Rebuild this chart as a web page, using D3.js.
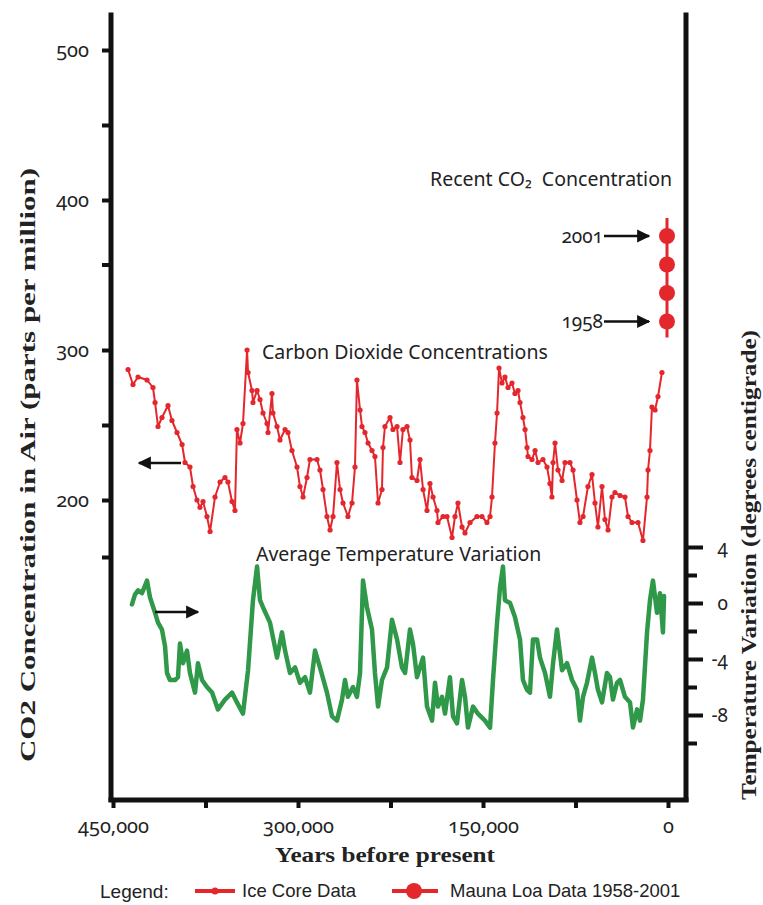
<!DOCTYPE html>
<html>
<head>
<meta charset="utf-8">
<script src="https://cdn.jsdelivr.net/npm/d3@7"></script>
<style>
  html, body { margin: 0; padding: 0; background: #fff; }
  svg { display: block; }
  .num { font-family: "Noto Sans", "Open Sans", sans-serif; font-variant-numeric: oldstyle-nums; fill: #222; }
  .note { font-family: "Noto Sans", "Open Sans", sans-serif; fill: #222; }
  .title { font-family: "Liberation Serif", "DejaVu Serif", serif; font-weight: bold; fill: #222; }
  .legend { font-family: "Liberation Sans Narrow", "Liberation Sans", sans-serif; font-stretch: condensed; fill: #222; }
</style>
</head>
<body>
<svg id="chart" width="763" height="905"></svg>
<script>
// Ice core CO2 record (years before present, ppm)
const co2Years = [437800,433800,429700,422400,417600,415900,413500,410300,405400,402200,398100,394000,391600,387600,385100,381900,379500,377000,373800,371300,367300,363200,359200,356800,353500,351100,349500,347000,344600,341300,340500,337300,336500,333200,330800,328400,325100,324300,321100,320300,317000,314600,310500,308100,304900,300800,298400,295900,292700,290300,284600,282200,279700,276500,274000,271600,268400,265900,263500,259500,256200,253800,252200,249700,248100,245700,243200,240000,237600,235100,231900,231100,229500,225400,223000,219700,217300,214900,211600,209200,207600,203500,201100,198600,195400,193000,190500,187300,186500,182400,179200,175100,172700,170300,167000,164600,160500,154900,150800,146800,144300,142700,140300,138600,137000,134600,132200,129700,126500,124100,121600,120000,117600,115900,114300,113500,110300,107800,105400,101400,98100,95700,94100,93200,91600,89200,85900,83500,79500,77000,73800,71400,68900,64900,61600,59200,56800,53500,51100,48600,45400,43000,38900,34900,32400,29200,24300,20300,17000,16200,14600,13000,10500,8100,4900];
const co2Ppm = [287,277,282,280,275,265,249,255,263,253,245,237,225,222,209,200,195,199,189,179,202,212,215,212,199,193,247,238,251,300,285,273,265,273,267,258,251,245,271,258,249,240,247,245,233,222,209,202,215,227,227,220,207,189,180,189,225,207,198,189,198,222,280,260,249,245,238,233,229,198,207,235,249,255,247,249,225,247,249,240,215,213,227,207,193,211,202,193,185,189,189,175,189,198,182,178,185,189,189,185,189,202,238,258,288,278,282,275,278,271,273,265,255,247,235,229,227,233,225,227,222,211,202,225,238,220,213,225,225,220,200,185,189,209,217,198,182,209,187,180,202,205,203,202,189,185,185,173,202,220,233,262,260,269,285];

// Temperature variation record (years before present, degrees C)
const tempYears = [434600,432200,429700,426500,422400,420000,415900,413500,410300,407800,406200,403800,399700,397300,395700,393200,390000,387600,383500,381100,377800,373800,369700,364900,359200,353500,349500,344600,340500,336500,333200,330800,328400,322700,317000,313000,310500,306500,302400,298400,294300,290300,286200,282200,276500,272400,268400,264300,261900,259500,255400,252200,249700,247300,244100,240000,237600,235100,231900,227800,223800,219700,215700,213200,209200,206800,203500,201100,198600,195400,191300,188900,186500,183200,180800,176800,174300,171100,167000,164600,162200,158100,154100,148400,144300,141900,138600,136200,133800,132200,128100,124100,120000,117600,114300,111900,109500,106200,103800,99700,95700,93200,90000,85900,81900,77800,73800,71400,68900,65700,61600,59200,56800,53500,49500,47000,44600,41400,38900,34900,30800,28400,25100,22700,20300,17000,14600,12200,8900,6500,4100,3200];
const tempC = [-0.1,0.6,0.9,0.7,1.6,0.4,-0.7,-1.4,-1.9,-3.1,-5.0,-5.5,-5.5,-5.3,-2.9,-4.3,-3.4,-5.0,-6.4,-4.3,-5.5,-6.0,-6.4,-7.6,-6.9,-6.4,-7.1,-7.9,-4.8,0.2,2.6,0.2,-0.3,-1.4,-3.9,-2.1,-3.4,-5.0,-4.6,-5.7,-5.3,-6.4,-3.4,-4.6,-6.4,-8.1,-8.4,-6.9,-5.5,-6.7,-6.0,-6.7,-5.0,1.6,-0.3,-1.9,-5.0,-7.4,-5.5,-4.6,-1.2,-2.6,-4.6,-5.0,-1.9,-2.9,-5.3,-4.6,-3.9,-7.4,-8.4,-5.7,-7.4,-6.7,-7.9,-5.3,-8.1,-8.6,-5.5,-6.7,-8.9,-7.4,-7.9,-8.4,-8.9,-5.5,-1.4,1.1,2.6,0.2,0.0,-1.0,-2.6,-5.5,-6.2,-6.4,-2.6,-2.6,-3.9,-5.0,-6.7,-4.3,-1.9,-4.8,-4.3,-5.5,-6.2,-8.4,-6.7,-5.7,-3.9,-5.0,-6.2,-7.1,-5.0,-5.3,-6.9,-5.7,-5.5,-6.7,-7.1,-8.9,-7.6,-8.4,-6.9,-2.1,0.2,1.6,-0.7,0.7,-2.1,0.5];

// Mauna Loa annual means, 1958 to 2001 (ppm)
const maunaLoaYears = [1958, 1972, 1987, 2001];
const maunaLoaPpm = [319, 338, 357, 376];
const maunaLoaLabels = ["2001", "1958"];

// Axis ticks
const co2TickLabels = [500, 400, 300, 200];
const co2MinorTicks = [450, 357, 250, 162];
const tempTickLabels = [4, 0, -4, -8];
const tempMinorTicks = [2, -2, -6, -10];
const yearTicks = [450000, 375000, 300000, 225000, 150000, 75000, 0];
const yearTickLabels = [450000, 300000, 150000, 0];

const RED = "#e3272d";
const GREEN = "#2f9849";
const INK = "#111";

const svg = d3.select("#chart");

const x = d3.scaleLinear().domain([450000, 0]).range([113, 668]);
const yCO2 = d3.scaleLinear().domain([0, 500]).range([800, 50]);
const yT = d3.scaleLinear().domain([0, 4]).range([603, 547]);

const leftX = 111, rightX = 686, baseY = 800;
const topY = yCO2(525);

// ---- axes ----
function styleAxis(g, width) {
  g.select(".domain").remove();
  g.selectAll(".tick line").attr("stroke", INK).attr("stroke-width", width);
}

// left CO2 axis
svg.append("g").attr("transform", `translate(${leftX},0)`)
  .call(d3.axisLeft(yCO2).tickValues(co2TickLabels.concat(co2MinorTicks)).tickSize(9).tickPadding(13)
    .tickFormat(d => co2TickLabels.includes(d) ? d : ""))
  .call(g => styleAxis(g, 4))
  .call(g => g.selectAll("text").attr("class", "num").style("font-size", "20px"));

// right temperature axis: major and minor ticks
svg.append("g").attr("transform", `translate(${rightX},0)`)
  .call(d3.axisRight(yT).tickValues(tempMinorTicks).tickSize(11).tickFormat(""))
  .call(g => styleAxis(g, 4));
svg.append("g").attr("transform", `translate(${rightX},0)`)
  .call(d3.axisRight(yT).tickValues(tempTickLabels).tickSize(17).tickFormat(d => d < 0 ? "-" + Math.abs(d) : d))
  .call(g => styleAxis(g, 4))
  .call(g => g.selectAll("text").attr("class", "num").style("font-size", "19px")
    .attr("x", 42).attr("text-anchor", "end"));

// bottom years axis
svg.append("g").attr("transform", `translate(0,${baseY})`)
  .call(d3.axisBottom(x).tickValues(yearTicks).tickSize(8)
    .tickFormat(d => yearTickLabels.includes(d) ? d3.format(",")(d) : ""))
  .call(g => styleAxis(g, 4))
  .call(g => g.selectAll("text").attr("class", "num").style("font-size", "20px")
    .attr("y", 33).attr("dy", 0));

// frame lines
svg.append("line").attr("x1", leftX).attr("x2", leftX).attr("y1", topY).attr("y2", baseY + 2)
  .attr("stroke", INK).attr("stroke-width", 5);
svg.append("line").attr("x1", rightX).attr("x2", rightX).attr("y1", topY).attr("y2", baseY + 2)
  .attr("stroke", INK).attr("stroke-width", 5);
svg.append("line").attr("x1", leftX - 2.5).attr("x2", rightX + 2.5).attr("y1", baseY).attr("y2", baseY)
  .attr("stroke", INK).attr("stroke-width", 5);

// ---- series ----
const co2Data = co2Years.map((yr, i) => ({ yr, v: co2Ppm[i] }));
const tempData = tempYears.map((yr, i) => ({ yr, v: tempC[i] }));

svg.append("path").datum(tempData)
  .attr("fill", "none").attr("stroke", GREEN).attr("stroke-width", 4.5)
  .attr("stroke-linejoin", "round").attr("stroke-linecap", "round")
  .attr("d", d3.line().x(d => x(d.yr)).y(d => yT(d.v)));

svg.append("path").datum(co2Data)
  .attr("fill", "none").attr("stroke", RED).attr("stroke-width", 2)
  .attr("stroke-linejoin", "round")
  .attr("d", d3.line().x(d => x(d.yr)).y(d => yCO2(d.v)));
svg.append("g").selectAll("circle").data(co2Data).join("circle")
  .attr("cx", d => x(d.yr)).attr("cy", d => yCO2(d.v)).attr("r", 2.6).attr("fill", RED);

// Mauna Loa points, plotted at the present day
const mlX = x(0) - 1;
svg.append("line").attr("x1", mlX).attr("x2", mlX)
  .attr("y1", yCO2(d3.max(maunaLoaPpm)) - 18).attr("y2", yCO2(d3.min(maunaLoaPpm)) + 16)
  .attr("stroke", RED).attr("stroke-width", 3);
svg.append("g").selectAll("circle").data(maunaLoaPpm).join("circle")
  .attr("cx", mlX).attr("cy", d => yCO2(d)).attr("r", 8).attr("fill", RED);

// ---- arrows ----
svg.append("defs").append("marker").attr("id", "head")
  .attr("viewBox", "0 0 10 10").attr("refX", 9).attr("refY", 5)
  .attr("markerWidth", 5.5).attr("markerHeight", 6).attr("markerUnits", "strokeWidth")
  .attr("orient", "auto")
  .append("path").attr("d", "M0,0 L10,5 L0,10 Z").attr("fill", INK);

function arrow(x1, y1, x2, y2) {
  svg.append("line").attr("x1", x1).attr("y1", y1).attr("x2", x2).attr("y2", y2)
    .attr("stroke", INK).attr("stroke-width", 2.4).attr("marker-end", "url(#head)");
}
arrow(181, 463, 139, 463);
arrow(155, 612, 198, 612);

const mlEnds = [d3.max(maunaLoaPpm), d3.min(maunaLoaPpm)];
maunaLoaLabels.forEach((lab, i) => {
  const yy = yCO2(mlEnds[i]);
  arrow(604, yy, 649, yy);
  svg.append("text").attr("class", "num").attr("x", 603).attr("y", yy).attr("dy", "0.35em")
    .attr("text-anchor", "end").style("font-size", "19px").text(lab);
});

// ---- annotations ----
svg.append("text").attr("class", "note").attr("x", 672).attr("y", 186)
  .attr("text-anchor", "end").style("font-size", "19.5px").text("Recent CO\u2082\u00A0 Concentration");
svg.append("text").attr("class", "note").attr("x", 262).attr("y", 359)
  .style("font-size", "19.5px").text("Carbon Dioxide Concentrations");
svg.append("text").attr("class", "note").attr("x", 256).attr("y", 561)
  .style("font-size", "19.5px").text("Average Temperature Variation");

// axis titles
svg.append("text").attr("class", "title")
  .attr("transform", "translate(35,465) rotate(-90)")
  .attr("text-anchor", "middle").style("font-size", "22px")
  .attr("textLength", 594).attr("lengthAdjust", "spacingAndGlyphs")
  .text("CO2 Concentration in Air (parts per million)");
svg.append("text").attr("class", "title")
  .attr("transform", "translate(756,565) rotate(-90)")
  .attr("text-anchor", "middle").style("font-size", "20px")
  .attr("textLength", 470).attr("lengthAdjust", "spacingAndGlyphs")
  .text("Temperature Variation (degrees centigrade)");
svg.append("text").attr("class", "title")
  .attr("x", 385).attr("y", 862).attr("text-anchor", "middle").style("font-size", "22px")
  .attr("textLength", 220).attr("lengthAdjust", "spacingAndGlyphs")
  .text("Years before present");

// ---- legend ----
const lg = svg.append("g").attr("transform", "translate(0,891)");
lg.append("text").attr("class", "legend").attr("x", 100).attr("dy", "0.35em")
  .style("font-size", "19px").text("Legend:");
lg.append("line").attr("x1", 195).attr("x2", 235).attr("stroke", RED).attr("stroke-width", 4);
lg.append("circle").attr("cx", 215).attr("r", 3.5).attr("fill", RED);
lg.append("text").attr("class", "legend").attr("x", 242).attr("dy", "0.35em")
  .style("font-size", "18.5px").text("Ice Core Data");
lg.append("line").attr("x1", 392).attr("x2", 438).attr("stroke", RED).attr("stroke-width", 4);
lg.append("circle").attr("cx", 414).attr("r", 8).attr("fill", RED);
lg.append("text").attr("class", "legend").attr("x", 450).attr("dy", "0.35em")
  .style("font-size", "18.5px").text("Mauna Loa Data 1958-2001");
</script>
</body>
</html>
